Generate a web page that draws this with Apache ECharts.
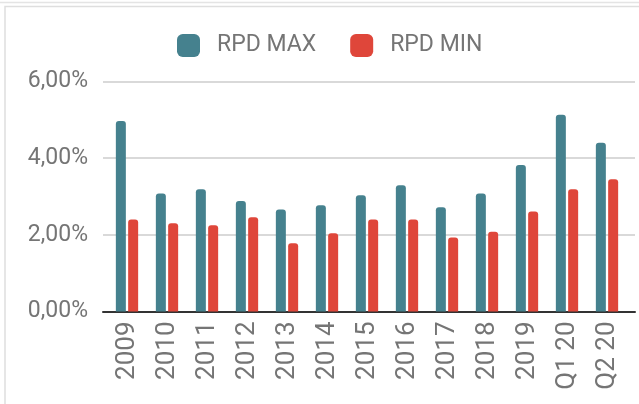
<!DOCTYPE html>
<html>
<head>
<meta charset="utf-8">
<script src="https://cdn.jsdelivr.net/npm/echarts@6/dist/echarts.min.js"></script>
<style>
html,body{margin:0;padding:0;background:#fff;}
#chart{width:639px;height:404px;}
</style>
</head>
<body>
<div id="chart"></div>
<script>
var categories = ['2009','2010','2011','2012','2013','2014','2015','2016','2017','2018','2019','Q1 20','Q2 20'];
var rpdMax = [4.97, 3.08, 3.19, 2.88, 2.66, 2.77, 3.03, 3.29, 2.72, 3.08, 3.82, 5.13, 4.40];
var rpdMin = [2.40, 2.30, 2.25, 2.46, 1.78, 2.04, 2.40, 2.40, 1.93, 2.08, 2.61, 3.19, 3.45];
var yTicks = [0, 2, 4, 6];
var seriesNames = ['RPD MAX', 'RPD MIN'];

var labelColor = '#757575';
var font = 'Roboto';
var chart = echarts.init(document.getElementById('chart'), null, {renderer: 'canvas'});
chart.setOption({
  animation: false,
  backgroundColor: '#fff',
  textStyle: {fontFamily: font},
  graphic: [
    {type: 'line', shape: {x1: 0, y1: 2.5, x2: 639, y2: 2.5}, style: {stroke: '#e4e4e4', lineWidth: 1.5}, silent: true},
    {type: 'rect', shape: {x: 5, y: 6.5, width: 700, height: 500}, style: {fill: 'none', stroke: '#dedede', lineWidth: 1.5}, silent: true}
  ],
  legend: {
    left: 172,
    top: 29,
    itemWidth: 23,
    itemHeight: 23,
    itemGap: 34,
    icon: 'roundRect',
    data: seriesNames,
    textStyle: {fontFamily: font, fontSize: 23, color: labelColor, padding: [0, 0, 0, 12]}
  },
  grid: [
    {left: 103, right: 4, top: 81.4, bottom: 92.5},
    {left: 107, right: 12, top: 81.4, bottom: 92.5}
  ],
  xAxis: [
    {
      gridIndex: 0, type: 'value', min: 0, max: 1,
      axisLine: {show: true, onZero: false, lineStyle: {color: '#333', width: 2}},
      axisTick: {show: false}, axisLabel: {show: false}, splitLine: {show: false}
    },
    {
      gridIndex: 1, type: 'category', data: categories,
      axisLine: {show: false}, axisTick: {show: false},
      axisLabel: {rotate: 90, margin: 10, fontSize: 26, color: labelColor, fontFamily: font, interval: 0}
    }
  ],
  yAxis: [
    {
      gridIndex: 0, type: 'value', min: yTicks[0], max: yTicks[yTicks.length - 1], interval: 2,
      axisLine: {show: false}, axisTick: {show: false},
      axisLabel: {margin: 15, fontSize: 23, color: labelColor, fontFamily: font,
        formatter: function (v) { return v.toFixed(2).replace('.', ',') + '%'; }},
      splitLine: {lineStyle: {color: '#cccccc', width: 1.5}}
    },
    {
      gridIndex: 1, type: 'value', min: yTicks[0], max: yTicks[yTicks.length - 1],
      show: false, splitLine: {show: false}
    }
  ],
  series: [
    {
      name: seriesNames[0], type: 'bar', xAxisIndex: 1, yAxisIndex: 1,
      data: rpdMax, barWidth: 10, barGap: '23%',
      itemStyle: {color: '#45818e', borderRadius: [3, 3, 0, 0]}
    },
    {
      name: seriesNames[1], type: 'bar', xAxisIndex: 1, yAxisIndex: 1,
      data: rpdMin, barWidth: 10, barGap: '23%',
      itemStyle: {color: '#df463a', borderRadius: [3, 3, 0, 0]}
    }
  ]
});
</script>
</body>
</html>
